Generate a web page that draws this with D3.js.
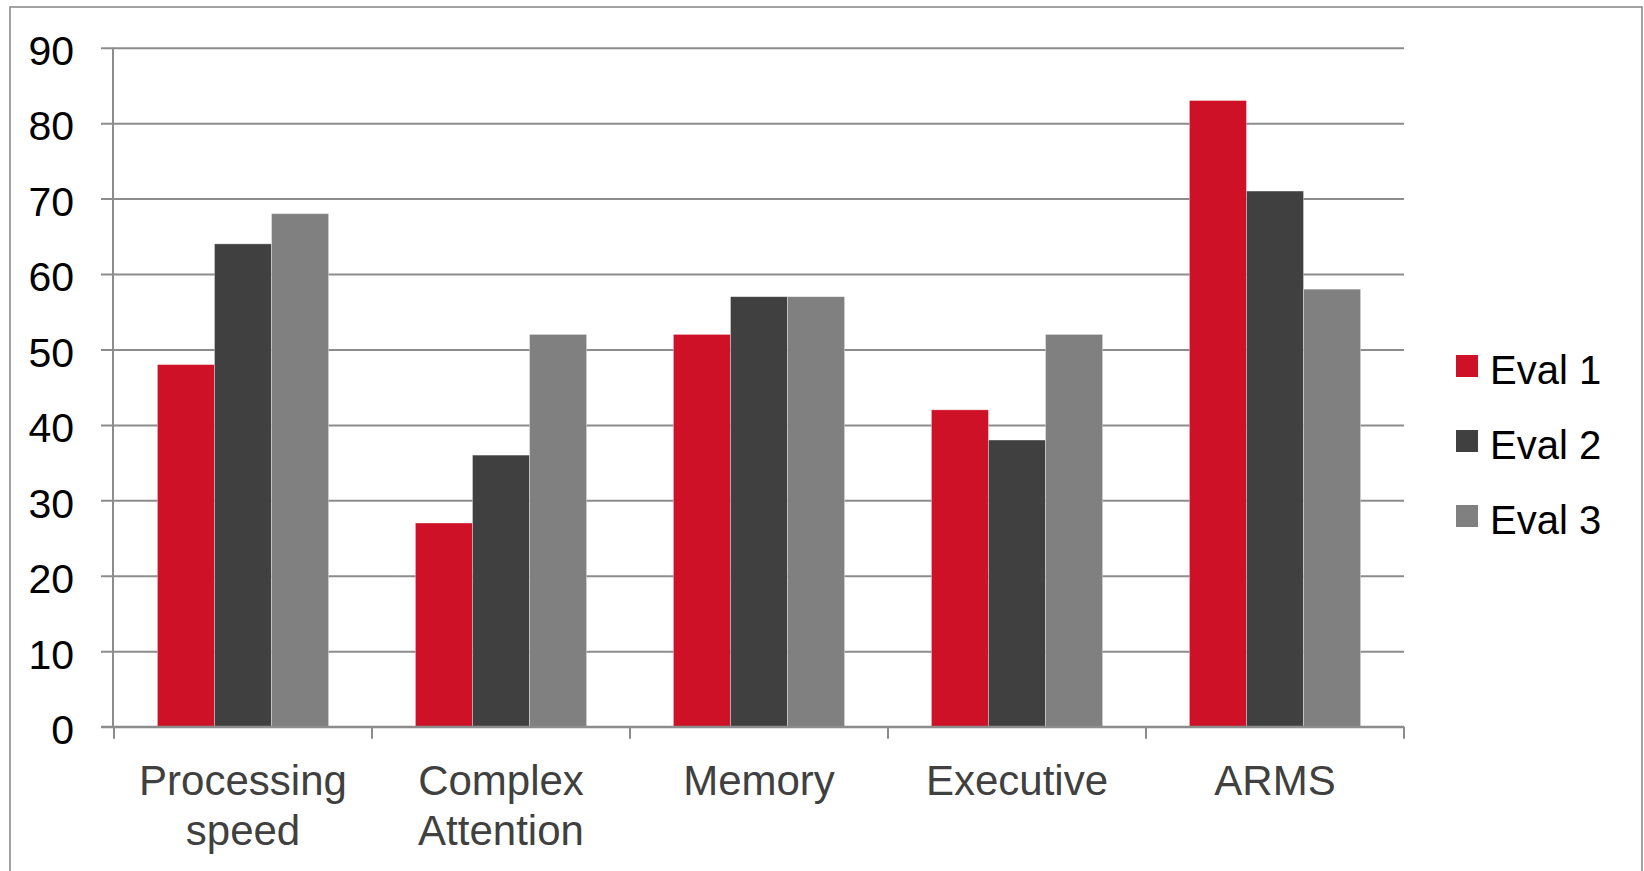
<!DOCTYPE html>
<html>
<head>
<meta charset="utf-8">
<script src="https://cdn.jsdelivr.net/npm/d3@7"></script>
<style>
  html, body { margin: 0; padding: 0; background: #ffffff; }
  svg { display: block; font-family: "Liberation Sans", Arial, sans-serif; }
</style>
</head>
<body>
<svg id="chart" width="1644" height="871"></svg>
<script>
// Domain scores per evaluation
const categories = [["Processing", "speed"], ["Complex", "Attention"], ["Memory"], ["Executive"], ["ARMS"]];
const seriesNames = ["Eval 1", "Eval 2", "Eval 3"];
const eval1 = [48, 27, 52, 42, 83];
const eval2 = [64, 36, 57, 38, 71];
const eval3 = [68, 52, 57, 52, 58];
const yTicks = [0, 10, 20, 30, 40, 50, 60, 70, 80, 90];
const seriesColors = ["#CE1126", "#404040", "#808080"];

const seriesValues = [eval1, eval2, eval3];
const catKeys = categories.map(c => c.join(" "));

const svg = d3.select("#chart");
const gridColor = "#8c8c8c";

// outer chart frame
svg.append("rect")
  .attr("x", 10).attr("y", 7)
  .attr("width", 1632).attr("height", 880)
  .attr("fill", "none").attr("stroke", gridColor).attr("stroke-width", 1.6);

const plotLeft = 114, plotRight = 1404;
const y = d3.scaleLinear().domain([0, 90]).range([726.7, 47.7]);
const x0 = d3.scaleBand().domain(catKeys).range([plotLeft, plotRight]).padding(0);
const x1 = d3.scaleBand().domain(seriesNames).range([0, x0.bandwidth()])
  .paddingInner(0).paddingOuter(0.76);
const color = d3.scaleOrdinal().domain(seriesNames).range(seriesColors);

// horizontal gridlines and y tick labels
const yAxis = d3.axisLeft(y)
  .tickValues(yTicks)
  .tickSize(-(plotRight - 101))
  .tickPadding(27)
  .tickFormat(d3.format("d"));

const gy = svg.append("g").attr("transform", "translate(101,0)").call(yAxis);
gy.select(".domain").remove();
gy.selectAll(".tick line").attr("stroke", gridColor).attr("stroke-width", 2);
gy.selectAll(".tick text")
  .attr("fill", "#000000")
  .attr("font-size", 41)
  .attr("dy", "0.41em")
  .style("font-family", "\"Liberation Sans\", Arial, sans-serif");

// vertical value axis
svg.append("line")
  .attr("x1", plotLeft - 1).attr("x2", plotLeft - 1)
  .attr("y1", y(90)).attr("y2", y(0))
  .attr("stroke", gridColor).attr("stroke-width", 2);

// bars
const groups = svg.append("g").selectAll("g")
  .data(catKeys)
  .join("g")
  .attr("transform", d => `translate(${x0(d)},0)`);

groups.selectAll("rect")
  .data((d, i) => seriesNames.map((s, j) => ({ s, v: seriesValues[j][i] })))
  .join("rect")
  .attr("x", d => x1(d.s))
  .attr("y", d => y(d.v))
  .attr("width", x1.bandwidth())
  .attr("height", d => y(0) - y(d.v))
  .attr("fill", d => color(d.s))
  .attr("stroke", "rgba(255,255,255,0.45)")
  .attr("stroke-width", 0.8);

// category axis line and boundary ticks
svg.append("line")
  .attr("x1", 101).attr("x2", plotRight)
  .attr("y1", y(0)).attr("y2", y(0))
  .attr("stroke", gridColor).attr("stroke-width", 2);

const boundaries = catKeys.map(k => x0(k)).concat([x0(catKeys[catKeys.length - 1]) + x0.bandwidth()]);
svg.append("g").selectAll("line")
  .data(boundaries)
  .join("line")
  .attr("x1", d => d).attr("x2", d => d)
  .attr("y1", y(0)).attr("y2", y(0) + 12)
  .attr("stroke", gridColor).attr("stroke-width", 2);

// category labels
const labels = svg.append("g").selectAll("text")
  .data(categories)
  .join("text")
  .attr("x", (d, i) => x0(catKeys[i]) + x0.bandwidth() / 2)
  .attr("y", 795)
  .attr("text-anchor", "middle")
  .attr("font-size", 42)
  .attr("fill", "#404040");

labels.selectAll("tspan")
  .data(d => d)
  .join("tspan")
  .attr("x", function () { return d3.select(this.parentNode).attr("x"); })
  .attr("dy", (d, i) => i === 0 ? 0 : 50)
  .text(d => d);

// legend
const legend = svg.append("g").selectAll("g")
  .data(seriesNames)
  .join("g")
  .attr("transform", (d, i) => `translate(1456,${355 + i * 75})`);

legend.append("rect")
  .attr("width", 22).attr("height", 22)
  .attr("fill", d => color(d));

legend.append("text")
  .attr("x", 34).attr("y", 29)
  .attr("font-size", 40)
  .attr("fill", "#000000")
  .text(d => d);
</script>
</body>
</html>
